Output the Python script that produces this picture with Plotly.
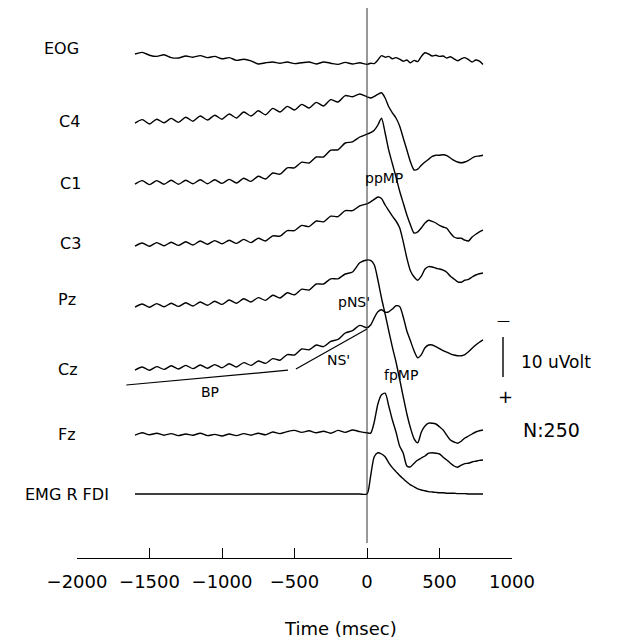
import plotly.graph_objects as go

# ---------------- data ----------------
time_pre = list(range(-1600, 0, 50))      # ms, coarse pre-movement samples
time_post = list(range(0, 825, 25))       # ms, finer post-movement samples
time_ms = time_pre + time_post

channels = ["EOG", "C4", "C1", "C3", "Pz", "Cz", "Fz", "EMG R FDI"]

# amplitudes in uV relative to each channel's start level (negative = up)
eog_uv = [0.0, -0.4, 0.3, 0.6, 0.2, 0.9, 1.0, 0.5, 0.8, 0.4, 0.9, 0.6, 1.2, 0.9, 1.6, 1.3,
          1.7, 2.5, 2.2, 2.0, 2.3, 2.0, 2.4, 2.2, 2.0, 2.5, 2.0, 2.3, 2.6, 2.1, 2.5, 2.2,
          2.6, 2.3, 2.4, 1.5, 0.4, 0.8, 0.6, 1.2, 0.9, 1.3, 1.8, 1.5, 2.2, 1.6, 1.9, 0.6,
          -0.3, 0.0, 0.5, 0.3, 0.6, 0.5, 1.0, 0.7, 1.2, 1.7, 1.2, 0.9, 1.4, 2.0, 1.5, 1.8, 2.6]
c4_uv = [0.3, -0.6, 0.5, -0.7, 0.2, -0.9, 0.1, -1.2, -0.2, -1.5, -0.5, -1.7, -0.7, -2.0, -1.0, -2.5,
         -1.5, -2.8, -1.8, -3.4, -2.5, -3.9, -3.0, -4.4, -3.5, -4.9, -4.0, -5.6, -5.0, -6.6, -6.3, -7.0,
         -6.3, -6.0, -6.4, -6.9, -7.3, -6.0, -3.8, -2.3, -1.0, 1.0, 4.0, 7.0, 10.0, 12.0, 11.8, 10.8,
         10.0, 9.3, 8.6, 8.3, 8.3, 8.2, 8.4, 9.0, 9.6, 10.0, 10.2, 10.0, 9.6, 9.0, 8.6, 8.5, 8.3]
c1_uv = [0.3, -0.6, 0.4, -0.6, 0.3, -0.7, 0.3, -0.7, 0.2, -0.8, 0.2, -0.8, 0.1, -0.9, 0.0, -1.2,
         -0.4, -1.7, -1.0, -2.5, -2.2, -3.8, -3.8, -5.2, -5.0, -6.5, -6.5, -8.2, -8.3, -10.0, -10.3, -11.5,
         -12.2, -12.6, -13.2, -14.5, -16.2, -12.5, -8.2, -4.8, -1.5, 2.0, 5.0, 8.0, 10.5, 12.5, 12.2, 11.2,
         10.0, 9.3, 9.6, 10.0, 10.6, 11.0, 11.3, 12.5, 13.5, 13.8, 13.8, 14.3, 14.5, 13.5, 12.8, 12.2, 11.8]
c3_uv = [0.3, -0.5, 0.3, -0.6, 0.2, -0.7, 0.1, -0.8, 0.0, -1.0, -0.2, -1.1, -0.3, -1.2, -0.4, -1.4,
         -0.6, -1.7, -1.0, -2.3, -2.2, -3.6, -3.6, -4.9, -4.6, -6.0, -5.8, -7.2, -7.1, -8.6, -8.6, -9.8,
         -10.3, -10.8, -11.4, -12.0, -11.6, -10.0, -8.6, -7.2, -6.0, -4.3, -0.8, 3.3, 6.5, 8.0, 8.8, 7.8,
         6.0, 5.4, 5.5, 5.8, 6.0, 6.3, 6.8, 7.8, 8.5, 9.2, 9.3, 8.8, 8.6, 8.0, 7.5, 7.2, 7.0]
pz_uv = [0.3, -0.5, 0.3, -0.6, 0.2, -0.7, 0.1, -0.8, 0.0, -1.0, -0.2, -1.2, -0.4, -1.5, -0.7, -1.8,
         -1.0, -2.1, -1.4, -2.7, -2.0, -3.3, -2.8, -4.2, -4.0, -5.5, -5.5, -6.8, -6.8, -8.0, -8.5, -10.8,
         -11.5, -11.4, -10.3, -6.5, -2.0, 2.0, 6.2, 10.3, 14.0, 18.3, 22.7, 27.0, 30.5, 33.2, 34.2, 31.5,
         30.0, 29.3, 29.3, 29.5, 30.2, 31.0, 32.3, 33.5, 34.0, 34.3, 33.8, 33.0, 32.5, 32.0, 31.5, 31.2, 31.0]
cz_uv = [0.3, -0.5, 0.3, -0.6, 0.1, -0.8, 0.0, -0.9, -0.1, -1.0, -0.2, -1.1, -0.3, -1.3, -0.5, -1.6,
         -0.9, -2.0, -1.4, -2.6, -2.2, -3.6, -3.5, -5.0, -4.8, -6.0, -5.6, -6.9, -7.4, -9.0, -9.6, -10.9,
         -10.3, -11.0, -12.8, -14.3, -14.8, -14.2, -14.3, -15.0, -15.8, -15.6, -13.0, -9.5, -7.0, -4.5, -2.8, -3.6,
         -5.3, -6.0, -6.0, -5.6, -5.1, -4.6, -4.2, -3.8, -3.5, -3.3, -3.3, -3.6, -4.3, -5.2, -6.0, -6.7, -7.3]
fz_uv = [0.3, -0.3, 0.2, -0.2, 0.3, -0.1, 0.4, 0.0, 0.3, -0.2, 0.4, 0.1, 0.5, 0.0, 0.4, -0.1,
         0.3, -0.2, 0.2, -0.5, -0.1, -0.6, -0.9, -0.4, -0.8, -0.3, -0.7, -0.2, -0.9, -0.4, -1.0, -0.6,
         -0.3, -0.2, -3.0, -7.5, -9.8, -10.2, -7.0, -3.5, -0.5, 3.0, 4.8, 8.0, 8.2, 7.3, 6.5, 6.0,
         5.5, 4.8, 4.7, 4.8, 5.0, 5.8, 6.5, 7.3, 8.0, 8.3, 7.8, 7.4, 7.3, 7.0, 6.8, 6.6, 6.5]
emg_uv = [0.0, 0.0, 0.0, 0.0, 0.0, 0.0, 0.0, 0.0, 0.0, 0.0, 0.0, 0.0, 0.0, 0.0, 0.0, 0.0,
          0.0, 0.0, 0.0, 0.0, 0.0, 0.0, 0.0, 0.0, 0.0, 0.0, 0.0, 0.0, 0.0, 0.0, 0.0, 0.0,
          0.0, -4.5, -9.3, -10.3, -10.0, -9.3, -7.8, -6.6, -5.6, -4.6, -3.8, -3.0, -2.3, -1.8, -1.3, -1.0,
          -0.8, -0.6, -0.5, -0.4, -0.3, -0.3, -0.2, -0.2, -0.2, -0.1, -0.1, -0.1, 0.0, 0.0, 0.0, 0.0, 0.0]

series_uv = [eog_uv, c4_uv, c1_uv, c3_uv, pz_uv, cz_uv, fz_uv, emg_uv]

# BP and NS' slope lines drawn on the Cz trace scale (ms, uV)
bp_line_t = [-1660, -545]
bp_line_uv = [4.0, 0.3]
ns_line_t = [-490, 0]
ns_line_uv = [0.0, -10.0]

x_ticks = [-2000, -1500, -1000, -500, 0, 500, 1000]
scale_uv = 10
n_trials = 250

# ---------------- layout helpers (positions given in page pixels) ----------------
PAGE_OFF = 8                      # default body margin of the html page
W, H = 618, 643
ML, MR, MT, MB = 69, 114, 0, 93
PW, PH = W - ML - MR, H - MT - MB
PX_PER_UV = 4.0
X_MIN, X_MAX = -2000, 1000
PX_PER_MS = PW / (X_MAX - X_MIN)


def xd(sx):
    return X_MIN + (sx - PAGE_OFF - ML) / PX_PER_MS


def yd(sy):
    return (H - MB - (sy - PAGE_OFF)) / PX_PER_UV


def xp(sx):
    return (sx - PAGE_OFF - ML) / PW


def yp(sy):
    return (H - MB - (sy - PAGE_OFF)) / PH


row_px = [54, 122, 183, 245, 306, 369, 434, 494]      # start level of each trace
label_px = [(61, 48), (69, 121), (70, 184), (70, 243), (67, 299), (68, 369), (67, 434), (67, 494)]
offsets = [yd(p) for p in row_px]

fig = go.Figure()
LINE = dict(color="black", width=1.4, shape="spline", smoothing=0.7)
for vals, off in zip(series_uv, offsets):
    fig.add_trace(go.Scatter(x=time_ms, y=[off - v for v in vals], mode="lines",
                             line=LINE, hoverinfo="skip", showlegend=False))

cz_off = offsets[channels.index("Cz")]
for tt, vv in ((bp_line_t, bp_line_uv), (ns_line_t, ns_line_uv)):
    fig.add_trace(go.Scatter(x=tt, y=[cz_off - v for v in vv], mode="lines",
                             line=dict(color="black", width=1.2), hoverinfo="skip",
                             showlegend=False))

FONT = "DejaVu Sans, Verdana, sans-serif"


def note(text, sx, sy, size, xanchor="center"):
    return dict(x=xp(sx), y=yp(sy), xref="paper", yref="paper", text=text, showarrow=False,
                xanchor=xanchor, yanchor="middle",
                font=dict(size=size, color="black", family=FONT))


ann = [note(name, lx, ly, 16) for name, (lx, ly) in zip(channels, label_px)]
ann += [note(t, px, py, 14) for t, (px, py) in [("ppMP", (384, 178)), ("pNS'", (354, 302)),
                                                  ("NS'", (338, 360)), ("BP", (210, 392)),
                                                  ("fpMP", (401, 375))]]
ann += [
    note("\u2014", 503, 320, 13),
    note("+", 505, 396, 18),
    note(f"{scale_uv} uVolt", 519, 362, 17, "left"),
    note(f"N:{n_trials}", 521, 430, 19, "left"),
    note("Time (msec)", 340, 628, 18),
]

bar_x = xd(503)
bar_mid = yd(357)
shapes = [
    dict(type="line", x0=0, x1=0, y0=yd(543), y1=yd(PAGE_OFF), xref="x", yref="y",
         line=dict(color="#333333", width=1)),
    dict(type="line", x0=bar_x, x1=bar_x, y0=bar_mid - scale_uv / 2, y1=bar_mid + scale_uv / 2,
         xref="x", yref="y", line=dict(color="black", width=1.4)),
]

fig.update_layout(
    width=W, height=H, margin=dict(l=ML, r=MR, t=MT, b=MB),
    paper_bgcolor="white", plot_bgcolor="white",
    annotations=ann, shapes=shapes,
    xaxis=dict(range=[X_MIN, X_MAX], tickvals=x_ticks, ticks="inside", ticklen=10,
               tickwidth=1.2, tickcolor="black", showline=True, linecolor="black",
               linewidth=1.3, showgrid=False, zeroline=False, ticklabelstandoff=7,
               tickfont=dict(size=18, color="black", family=FONT)),
    yaxis=dict(range=[0, PH / PX_PER_UV], visible=False, showgrid=False, zeroline=False),
)

fig.write_html("out.html")
